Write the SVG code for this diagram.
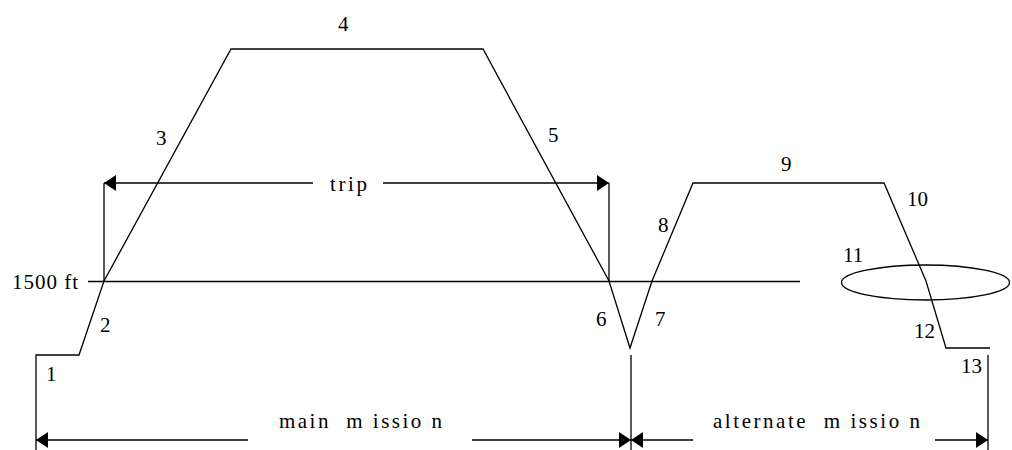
<svg xmlns="http://www.w3.org/2000/svg" width="1012" height="450" viewBox="0 0 1012 450">
  <style>
    .ln{fill:none;stroke:#000;stroke-width:1.3;stroke-linejoin:miter}
    .t{font-family:'Liberation Serif','Times New Roman',serif;font-size:21px;fill:#000}
  </style>
  <defs>
    <marker id="ah" viewBox="0 0 12 16" refX="12" refY="8" markerWidth="12" markerHeight="16" markerUnits="userSpaceOnUse" orient="auto">
      <path d="M0,0 L12,8 L0,16 Z" fill="#000"/>
    </marker>
  </defs>
  <rect width="1012" height="450" fill="#fff"/>

  <g id="profile">
    <polyline class="ln" points="36,450 36,355 79,355 104,281 231,49 483,49 609,281 630,348 652,281 693,183 884,183 926,281 946,348 990,348"/>
    <ellipse class="ln" cx="925.5" cy="282.5" rx="84" ry="17.5"/>
  </g>

  <g id="connectors">
    <line class="ln" x1="88" y1="281.5" x2="800" y2="281.5"/>
    <line class="ln" x1="104" y1="183" x2="104" y2="281"/>
    <line class="ln" x1="609" y1="183" x2="609" y2="281"/>
    <line class="ln" x1="313" y1="183" x2="104" y2="183" marker-end="url(#ah)"/>
    <line class="ln" x1="383" y1="183" x2="609" y2="183" marker-end="url(#ah)"/>
    <line class="ln" x1="631" y1="355" x2="631" y2="450"/>
    <line class="ln" x1="988" y1="355" x2="988" y2="450"/>
    <line class="ln" x1="248" y1="440" x2="36" y2="440" marker-end="url(#ah)"/>
    <line class="ln" x1="472" y1="440" x2="631" y2="440" marker-end="url(#ah)"/>
    <line class="ln" x1="693" y1="440" x2="631" y2="440" marker-end="url(#ah)"/>
    <line class="ln" x1="935" y1="440" x2="988" y2="440" marker-end="url(#ah)"/>
  </g>

  <g id="labels">
    <text class="t" x="12" y="289" textLength="66" lengthAdjust="spacing">1500 ft</text>
    <text class="t" x="330" y="191" textLength="37" lengthAdjust="spacing">trip</text>
    <text class="t" x="279" y="428" xml:space="preserve" textLength="163" lengthAdjust="spacing">main  m issio n</text>
    <text class="t" x="713" y="428" xml:space="preserve" textLength="207" lengthAdjust="spacing">alternate  m issio n</text>
    <text class="t" x="46" y="381">1</text>
    <text class="t" x="100" y="332">2</text>
    <text class="t" x="156" y="145">3</text>
    <text class="t" x="338" y="31">4</text>
    <text class="t" x="548" y="142">5</text>
    <text class="t" x="596" y="326">6</text>
    <text class="t" x="655" y="326">7</text>
    <text class="t" x="658" y="232">8</text>
    <text class="t" x="781" y="171">9</text>
    <text class="t" x="907" y="206">10</text>
    <text class="t" x="843" y="262">11</text>
    <text class="t" x="914" y="338">12</text>
    <text class="t" x="961" y="373">13</text>
  </g>
</svg>
